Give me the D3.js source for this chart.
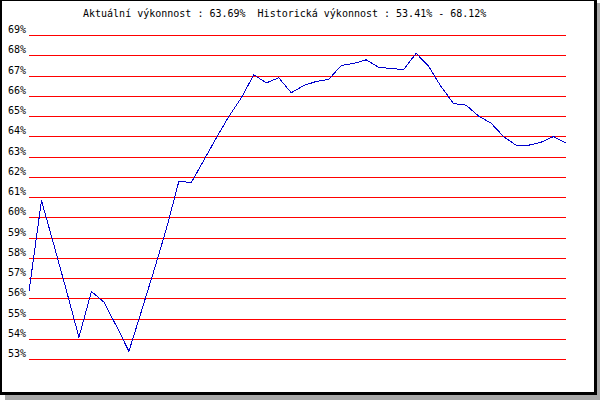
<!DOCTYPE html>
<html>
<head>
<meta charset="utf-8">
<script src="https://cdn.jsdelivr.net/npm/d3@7"></script>
<style>
  html, body { margin: 0; padding: 0; background: #fff; }
  svg { display: block; }
  text { font-family: "DejaVu Sans Mono", monospace; font-size: 10px; fill: #000; white-space: pre; }
</style>
</head>
<body>
<svg id="chart" width="600" height="400"></svg>
<script>
const titleText = "Aktuální výkonnost : 63.69%  Historická výkonnost : 53.41% - 68.12%";
const tickValues = [53, 54, 55, 56, 57, 58, 59, 60, 61, 62, 63, 64, 65, 66, 67, 68, 69];
const tickLabels = ["53%", "54%", "55%", "56%", "57%", "58%", "59%", "60%", "61%", "62%", "63%", "64%", "65%", "66%", "67%", "68%", "69%"];
const performance = [
  56.36, 60.85, 58.64, 56.40, 54.10, 56.36, 55.83, 54.65, 53.41, 55.38,
  57.38, 59.45, 61.80, 61.74, 62.84, 63.94, 65.00, 65.92, 67.06, 66.66,
  66.91, 66.17, 66.53, 66.73, 66.83, 67.52, 67.62, 67.80, 67.43, 67.37,
  67.32, 68.12, 67.48, 66.47, 65.64, 65.56, 65.02, 64.67, 64.01, 63.58,
  63.58, 63.73, 64.01, 63.69
];

const svg = d3.select("#chart");

// frame with drop shadow
svg.append("rect").attr("x", 597).attr("y", 3).attr("width", 3).attr("height", 397).attr("fill", "#a8a8a8");
svg.append("rect").attr("x", 5).attr("y", 395).attr("width", 595).attr("height", 5).attr("fill", "#a8a8a8");
svg.append("rect").attr("x", 0).attr("y", 0).attr("width", 597).attr("height", 395).attr("fill", "#000");
svg.append("rect").attr("x", 2).attr("y", 1).attr("width", 592).attr("height", 391).attr("fill", "#fff");

const x0 = 29, x1 = 566;
const x = d3.scaleLinear().domain([0, performance.length - 1]).range([x0, x1]);
const y = d3.scaleLinear().domain([53, 69]).range([359.5, 35.5]);
const snap = v => Math.floor(y(v)) + 0.5;

// grid lines
svg.append("g").selectAll("line").data(tickValues).join("line")
  .attr("x1", x0).attr("x2", x1)
  .attr("y1", d => snap(d)).attr("y2", d => snap(d))
  .attr("stroke", "#ff0000").attr("stroke-width", 1)
  .attr("shape-rendering", "crispEdges");

// y labels
svg.append("g").selectAll("text").data(tickValues).join("text")
  .attr("x", 8)
  .attr("y", d => Math.floor(y(d)) - 2)
  .text((d, i) => tickLabels[i]);

// title
svg.append("text").attr("x", 83).attr("y", 17).text(titleText);

// line
const line = d3.line().x((d, i) => x(i)).y(d => y(d));
svg.append("path").datum(performance)
  .attr("d", line)
  .attr("fill", "none")
  .attr("stroke", "#0000cc")
  .attr("stroke-width", 1)
  .attr("shape-rendering", "crispEdges");
</script>
</body>
</html>
